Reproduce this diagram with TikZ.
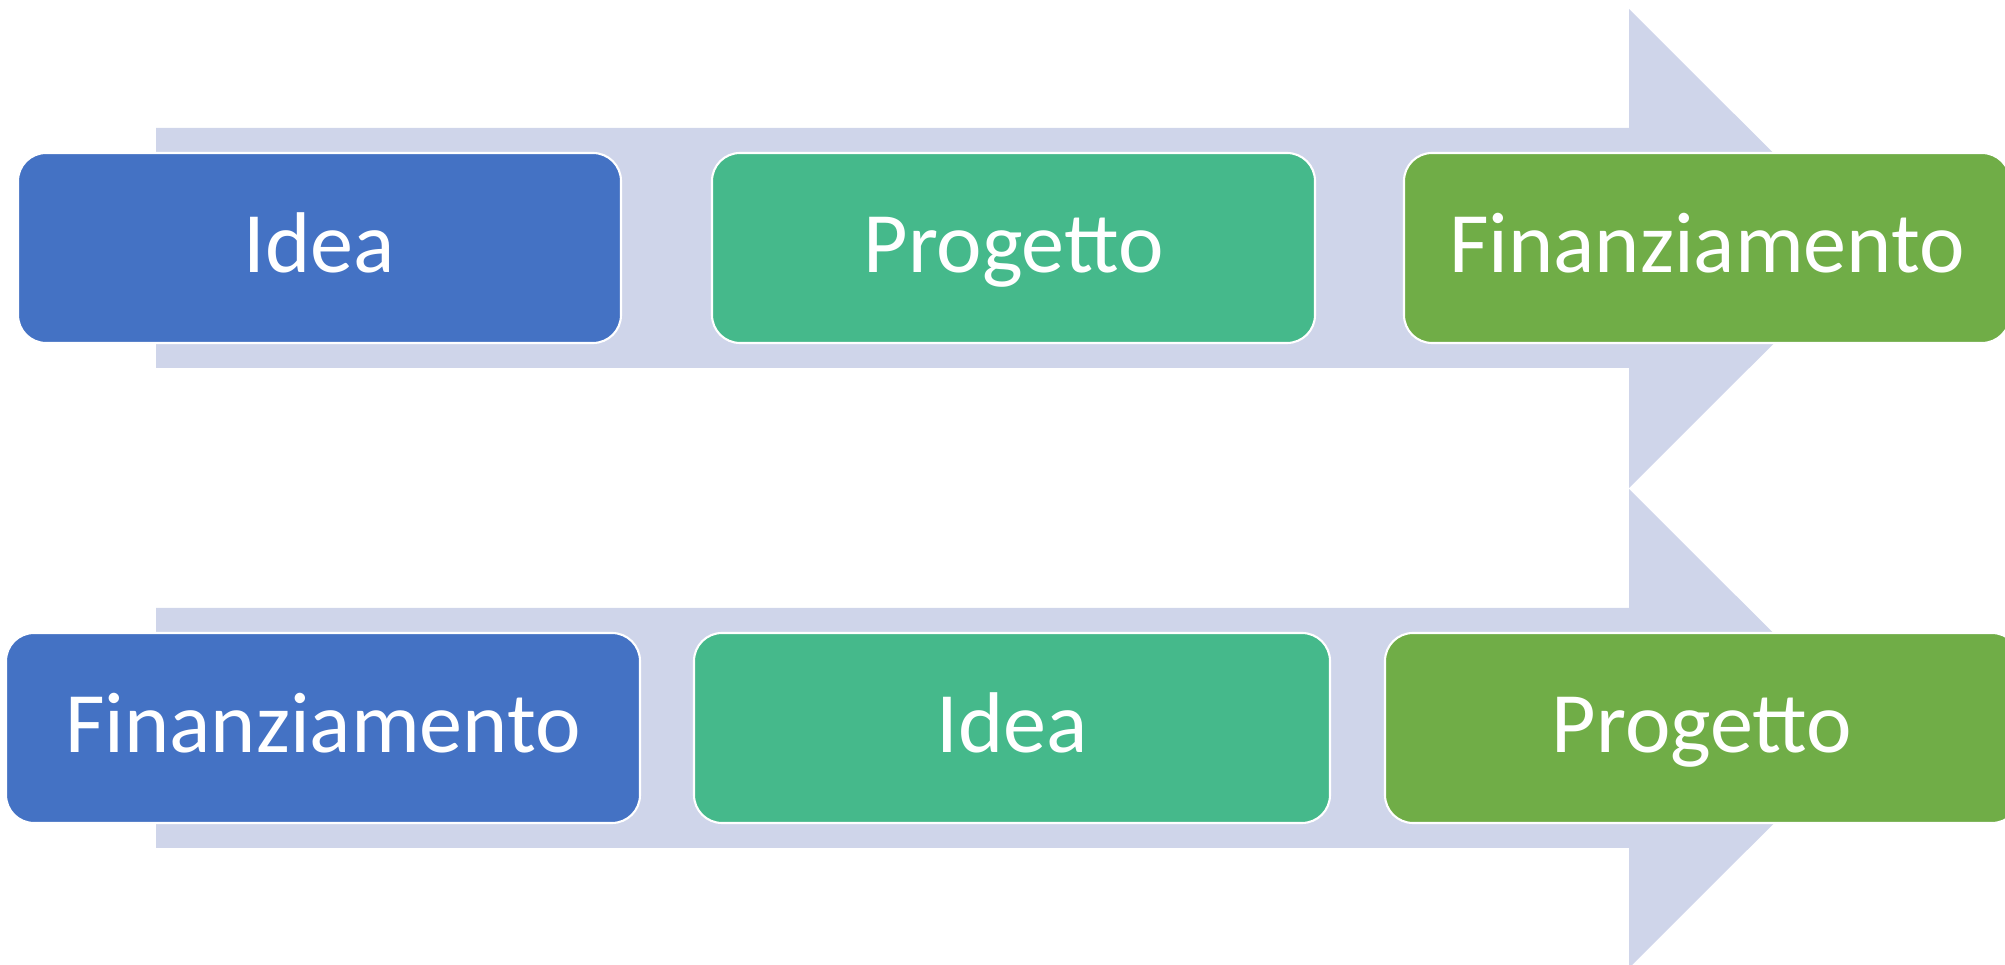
\documentclass[tikz,border=0pt]{standalone}
\usepackage{fontspec}
\setmainfont{Carlito}
\definecolor{band}{RGB}{207,213,234}
\definecolor{cblue}{RGB}{68,114,196}
\definecolor{cteal}{RGB}{69,185,139}
\definecolor{cgreen}{RGB}{112,173,71}
\tikzset{
  stepbox/.style={draw=white, line width=0.6pt, rounded corners=0.28cm, inner sep=0pt, text=white,
    font=\fontsize{24.5pt}{29pt}\selectfont},
  bandfill/.style={fill=band, draw=none}
}
\begin{document}
\begin{tikzpicture}[x=0.01cm,y=-0.01cm]
\useasboundingbox (0,0) rectangle (2005,965);
% top arrow
\fill[band] (156,128) -- (1629,128) -- (1629,9) -- (1869,248.5) -- (1629,488) -- (1629,368) -- (156,368) -- cycle;
% bottom arrow
\fill[band] (156,608) -- (1629,608) -- (1629,489) -- (1869,728.5) -- (1629,968) -- (1629,848) -- (156,848) -- cycle;
% top row boxes
\filldraw[stepbox, fill=cblue] (18,153) rectangle (621,343);
\filldraw[stepbox, fill=cteal] (712,153) rectangle (1315,343);
\filldraw[stepbox, fill=cgreen] (1404,153) rectangle (2010,343);
\node[stepbox, draw=none, anchor=base] (t1) at (319.5,273) {Idea};
\node[stepbox, draw=none, anchor=base] (t2) at (1013.5,273) {Progetto};
\node[stepbox, draw=none, anchor=base] (t3) at (1707,273) {Finanziamento};
% bottom row boxes
\filldraw[stepbox, fill=cblue] (6,633) rectangle (640,823);
\filldraw[stepbox, fill=cteal] (694,633) rectangle (1330,823);
\filldraw[stepbox, fill=cgreen] (1385,633) rectangle (2020,823);
\node[stepbox, draw=none, anchor=base] (b1) at (323,753) {Finanziamento};
\node[stepbox, draw=none, anchor=base] (b2) at (1012,753) {Idea};
\node[stepbox, draw=none, anchor=base] (b3) at (1702,753) {Progetto};
\end{tikzpicture}
\end{document}
